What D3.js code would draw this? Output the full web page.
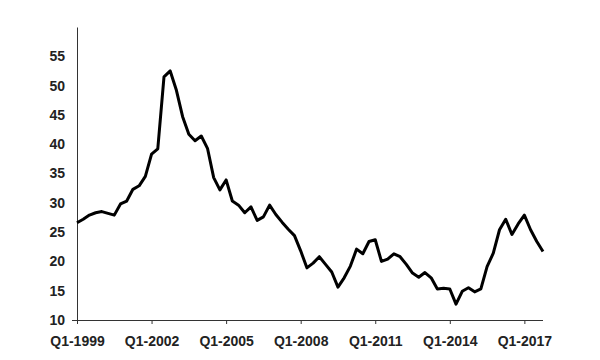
<!DOCTYPE html>
<html>
<head>
<meta charset="utf-8">
<script src="https://cdn.jsdelivr.net/npm/d3@7"></script>
<style>
  body { margin: 0; background: #fff; }
  text { font-family: "Liberation Sans", Arial, sans-serif; font-weight: bold; }
</style>
</head>
<body>
<div id="chart"></div>
<script>
// Quarterly series, Q1-1999 .. Q4-2017
var startYear = 1999;
var values = [
  26.6, 27.2, 27.9, 28.3, 28.5, 28.2, 27.9, 29.8, 30.3, 32.3,
  32.9, 34.5, 38.3, 39.2, 51.5, 52.5, 49.2, 44.7, 41.7, 40.6,
  41.4, 39.3, 34.3, 32.2, 33.9, 30.3, 29.6, 28.3, 29.3, 27.0,
  27.6, 29.6, 28.0, 26.7, 25.5, 24.4, 21.8, 18.9, 19.7, 20.8,
  19.5, 18.2, 15.6, 17.2, 19.2, 22.1, 21.3, 23.4, 23.7, 20.0,
  20.4, 21.3, 20.8, 19.5, 18.0, 17.3, 18.1, 17.2, 15.3, 15.4,
  15.3, 12.7, 14.9, 15.5, 14.8, 15.3, 19.1, 21.4, 25.4, 27.2,
  24.6, 26.4, 27.9, 25.4, 23.4, 21.7
];
var quarters = values.map(function(v, i) {
  return "Q" + (i % 4 + 1) + "-" + (startYear + Math.floor(i / 4));
});
var xTickLabels = ["Q1-1999", "Q1-2002", "Q1-2005", "Q1-2008", "Q1-2011", "Q1-2014", "Q1-2017"];
var yTicks = [10, 15, 20, 25, 30, 35, 40, 45, 50, 55];

var svgWidth = 600;
var svgHeight = 360;
var margin = { top: 27, right: 57, bottom: 40, left: 77 };
var chartWidth = svgWidth - margin.left - margin.right;
var chartHeight = svgHeight - margin.top - margin.bottom;

var svg = d3.select("#chart")
  .append("svg")
  .attr("width", svgWidth)
  .attr("height", svgHeight);

var chartGroup = svg.append("g")
  .attr("transform", `translate(${margin.left}, ${margin.top})`);

var xScale = d3.scalePoint()
  .domain(quarters)
  .range([0, chartWidth]);

var yScale = d3.scaleLinear()
  .domain([10, 60])
  .range([chartHeight, 0]);

// x axis
var bottomAxis = d3.axisBottom(xScale)
  .tickValues(xTickLabels)
  .tickSize(4)
  .tickSizeOuter(0)
  .tickPadding(12);

var xAxisG = chartGroup.append("g")
  .attr("transform", `translate(0, ${chartHeight})`)
  .call(bottomAxis);
xAxisG.select(".domain").attr("d", `M-5,0.5H${chartWidth}`).attr("stroke", "#333");
xAxisG.selectAll(".tick line").attr("stroke", "#333");
xAxisG.selectAll("text")
  .attr("font-size", 14)
  .attr("fill", "#222")
  .attr("font-family", "Liberation Sans, Arial, sans-serif")
  .attr("font-weight", "bold");

// y axis
var leftAxis = d3.axisLeft(yScale)
  .tickValues(yTicks)
  .tickSize(0)
  .tickPadding(12);

var yAxisG = chartGroup.append("g").call(leftAxis);
yAxisG.select(".domain").attr("stroke", "#333");
yAxisG.selectAll("text")
  .attr("font-size", 14)
  .attr("fill", "#222")
  .attr("font-family", "Liberation Sans, Arial, sans-serif")
  .attr("font-weight", "bold");

// line
var line = d3.line()
  .x(function(d, i) { return xScale(quarters[i]); })
  .y(function(d) { return yScale(d); });

chartGroup.append("path")
  .datum(values)
  .attr("d", line)
  .attr("fill", "none")
  .attr("stroke", "#000")
  .attr("stroke-width", 3)
  .attr("stroke-linejoin", "round");
</script>
</body>
</html>
